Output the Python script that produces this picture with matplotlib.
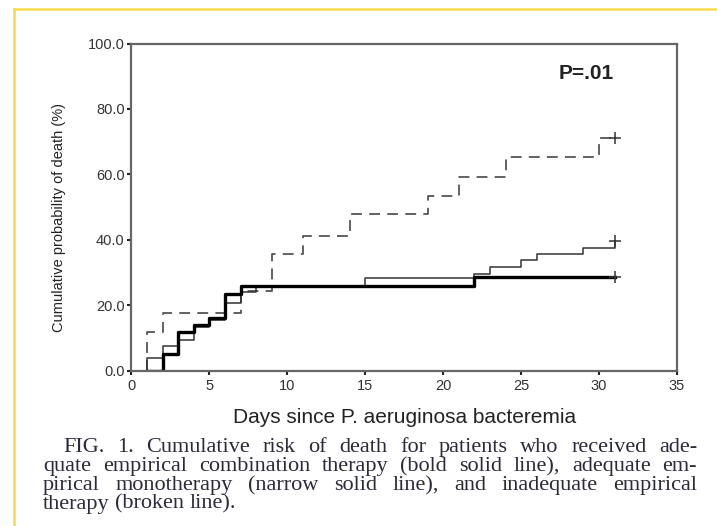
import numpy as np
import matplotlib
matplotlib.use("Agg")
import matplotlib.pyplot as plt
from matplotlib.lines import Line2D

# Kaplan-Meier style cumulative risk of death (%)
# adequate empirical combination therapy (bold solid line)
comb_days = [2, 3, 4, 5, 6, 7, 22]
comb_risk = [5.0, 11.8, 14.1, 16.2, 23.4, 26.0, 28.7]

# adequate empirical monotherapy (narrow solid line)
mono_days = [1, 2, 3, 4, 5, 6, 7, 8, 15, 22, 23, 25, 26, 29, 31]
mono_risk = [3.8, 7.4, 9.4, 13.2, 15.4, 20.6, 24.0, 26.0, 28.2, 29.7, 31.8, 33.8, 35.8, 37.6, 39.6]

# inadequate empirical therapy (broken line)
inad_days = [1, 2, 7, 9, 11, 14, 19, 21, 24, 30]
inad_risk = [11.9, 17.7, 24.2, 35.6, 41.3, 47.8, 53.4, 59.3, 65.2, 71.0]

start_day = 1
end_day = 31

xticks = [0, 5, 10, 15, 20, 25, 30, 35]
yticks = [0, 20, 40, 60, 80, 100]

caption_lines = [
    "FIG. 1. Cumulative risk of death for patients who received ade-",
    "quate empirical combination therapy (bold solid line), adequate em-",
    "pirical monotherapy (narrow solid line), and inadequate empirical",
    "therapy (broken line).",
]


def km_steps(days, risk):
    x = [start_day] + list(days) + [end_day]
    y = [0] + list(risk) + [risk[-1]]
    return x, y


fig = plt.figure(figsize=(7.17, 5.26), dpi=100)
ax = fig.add_axes([0.1834, 0.2953, 0.7608, 0.6220])

x, y = km_steps(inad_days, inad_risk)
ax.step(x, y, where='post', color='#555555', lw=1.3, dashes=(6, 4))
x, y = km_steps(mono_days, mono_risk)
ax.step(x, y, where='post', color='#333333', lw=1.1)
x, y = km_steps(comb_days, comb_risk)
ax.step(x, y, where='post', color='black', lw=2.4)

# censoring marks at the end of follow-up
ax.plot([end_day], [inad_risk[-1]], marker='+', ms=9, mew=1.1, color='#333333')
ax.plot([end_day], [mono_risk[-1]], marker='+', ms=9, mew=1.1, color='#333333')
ax.plot([end_day], [comb_risk[-1]], marker='+', ms=9, mew=1.1, color='#333333')

ax.set_xlim(0, 35)
ax.set_ylim(0, 100)
ax.set_xticks(xticks)
ax.set_yticks(yticks)
ax.set_yticklabels(['%.1f' % v for v in yticks])
ax.tick_params(direction='out', length=3, width=1.5, color='#222222',
               labelsize=10.5, labelcolor='#333333', pad=2)
ax.tick_params(axis='x', pad=3)
for s in ax.spines.values():
    s.set_color('#666666')
    s.set_linewidth(1.6)

ax.set_xlabel('Days since P. aeruginosa bacteremia', fontsize=15,
              family='Liberation Sans', color='#222222')
ax.xaxis.set_label_coords(0.5, -0.115)
ax.set_ylabel('Cumulative probability of death (%)', fontsize=10.5,
              family='Liberation Sans', color='#222222')
ax.yaxis.set_label_coords(-0.12, 0.468)
for t in ax.get_xticklabels() + ax.get_yticklabels():
    t.set_family('Liberation Sans')

ax.text(29.2, 90.9, 'P=.01', fontsize=15, fontweight='bold',
        family='Liberation Sans', color='#222222', ha='center', va='center')

# justified caption underneath, typeset like the journal page
renderer = fig.canvas.get_renderer()
W, H = 717.0, 526.0
cap_font = dict(family='Liberation Serif', fontsize=16, color='#2a2a38')
baselines = [452, 471, 490, 508.5]
for i, line in enumerate(caption_lines):
    x0 = 63 if i == 0 else 43
    x1 = 697
    words = line.split(' ')
    texts = [fig.text(0, 0, w, va='baseline', ha='left', **cap_font) for w in words]
    widths = [t.get_window_extent(renderer).width for t in texts]
    if i == len(caption_lines) - 1:
        t1 = fig.text(0, 0, 'a b', **cap_font)
        t2 = fig.text(0, 0, 'ab', **cap_font)
        sp = t1.get_window_extent(renderer).width - t2.get_window_extent(renderer).width
        t1.remove()
        t2.remove()
    else:
        sp = (x1 - x0 - sum(widths)) / (len(words) - 1)
    xpos = x0
    for t, w in zip(texts, widths):
        t.set_position((xpos / W, 1 - baselines[i] / H))
        xpos += w + sp

# yellow page frame at the left and top
fig.add_artist(Line2D([14 / W, 14 / W], [0, 1 - 9 / H], color='#f6da4c', lw=1.8))
fig.add_artist(Line2D([14 / W, 1], [1 - 9 / H, 1 - 9 / H], color='#f6da4c', lw=1.8))

fig.savefig('out.png', dpi=100)
